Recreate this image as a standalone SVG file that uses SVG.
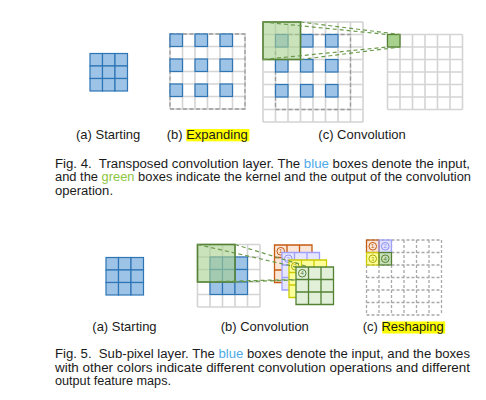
<svg xmlns="http://www.w3.org/2000/svg" xmlns:xlink="http://www.w3.org/1999/xlink" width="486" height="400" viewBox="0 0 486 400">
<style>
.bg{fill:#fff}
.grid{fill:none;stroke:#d4d4d4;stroke-width:1.6}
.dgrid{fill:none;stroke:#a8a8a8;stroke-width:1.3;stroke-dasharray:3 2}
.border{fill:none;stroke:#9a9a9a;stroke-width:1.3;stroke-dasharray:4 2.5}
.blue{fill:#9dc3e6;stroke:#2e75b6;stroke-width:1.2}
.kern{fill:#a9d18e;fill-opacity:0.6;stroke:#548235;stroke-width:1.6}
.gcell{fill:#a9d18e;stroke:#548235;stroke-width:1.3}
.conn{fill:none;stroke:#6b9a4c;stroke-width:1.2;stroke-dasharray:4 3}
.lbl{font-family:"Liberation Sans",Arial,sans-serif;font-size:13px;fill:#1a1a1a}
.cap{font-family:"Liberation Sans",Arial,sans-serif;font-size:12px;fill:#1a1a1a}
.hl{fill:#ffff00}
.num{font-family:"Liberation Sans",Arial,sans-serif;font-size:6px;text-anchor:middle}
.ring{fill:none;stroke-width:1}
</style>
<defs>
<path id="g3" d="M0 0H37.5V37.5H0Z M12.5 0V37.5 M25 0V37.5 M0 12.5H37.5 M0 25H37.5"/>
<g id="b3">
<rect class="blue" x="0" y="0" width="12.5" height="12.5"/><rect class="blue" x="12.5" y="0" width="12.5" height="12.5"/><rect class="blue" x="25" y="0" width="12.5" height="12.5"/>
<rect class="blue" x="0" y="12.5" width="12.5" height="12.5"/><rect class="blue" x="12.5" y="12.5" width="12.5" height="12.5"/><rect class="blue" x="25" y="12.5" width="12.5" height="12.5"/>
<rect class="blue" x="0" y="25" width="12.5" height="12.5"/><rect class="blue" x="12.5" y="25" width="12.5" height="12.5"/><rect class="blue" x="25" y="25" width="12.5" height="12.5"/>
</g>
</defs>
<rect class="bg" x="0" y="0" width="486" height="400"/>

<!-- Fig 4 (a) starting -->
<g id="fig4-a-input">
<use xlink:href="#b3" x="90" y="53.5"/>
</g>

<!-- Fig 4 (b) expanding -->
<g id="fig4-b-expanded">
<path class="grid" d="M170 34V109M182.5 34V109M195 34V109M207.5 34V109M220 34V109M232.5 34V109M245 34V109M170 34H245M170 46.5H245M170 59H245M170 71.5H245M170 84H245M170 96.5H245M170 109H245"/>
<rect class="border" x="170" y="34" width="75" height="75"/>
<rect class="blue" x="170" y="34" width="12.5" height="12.5"/><rect class="blue" x="195" y="34" width="12.5" height="12.5"/><rect class="blue" x="220" y="34" width="12.5" height="12.5"/>
<rect class="blue" x="170" y="59" width="12.5" height="12.5"/><rect class="blue" x="195" y="59" width="12.5" height="12.5"/><rect class="blue" x="220" y="59" width="12.5" height="12.5"/>
<rect class="blue" x="170" y="84" width="12.5" height="12.5"/><rect class="blue" x="195" y="84" width="12.5" height="12.5"/><rect class="blue" x="220" y="84" width="12.5" height="12.5"/>
</g>

<!-- Fig 4 (c) convolution input (padded) -->
<g id="fig4-c-padded">
<path class="grid" d="M263 22V122M275.5 22V122M288 22V122M300.5 22V122M313 22V122M325.5 22V122M338 22V122M350.5 22V122M363 22V122M263 22H363M263 34.5H363M263 47H363M263 59.5H363M263 72H363M263 84.5H363M263 97H363M263 109.5H363M263 122H363"/>
<rect class="border" x="275.5" y="34.5" width="75" height="75"/>
<rect class="blue" x="275.5" y="34.5" width="12.5" height="12.5"/><rect class="blue" x="300.5" y="34.5" width="12.5" height="12.5"/><rect class="blue" x="325.5" y="34.5" width="12.5" height="12.5"/>
<rect class="blue" x="275.5" y="59.5" width="12.5" height="12.5"/><rect class="blue" x="300.5" y="59.5" width="12.5" height="12.5"/><rect class="blue" x="325.5" y="59.5" width="12.5" height="12.5"/>
<rect class="blue" x="275.5" y="84.5" width="12.5" height="12.5"/><rect class="blue" x="300.5" y="84.5" width="12.5" height="12.5"/><rect class="blue" x="325.5" y="84.5" width="12.5" height="12.5"/>
</g>
<g id="fig4-c-kernel">
<rect class="kern" x="263" y="22" width="37.5" height="37.5"/>
</g>
<g id="fig4-c-output">
<path class="grid" d="M387.5 34.5V109.5M400 34.5V109.5M412.5 34.5V109.5M425 34.5V109.5M437.5 34.5V109.5M450 34.5V109.5M462.5 34.5V109.5M387.5 34.5H462.5M387.5 47H462.5M387.5 59.5H462.5M387.5 72H462.5M387.5 84.5H462.5M387.5 97H462.5M387.5 109.5H462.5"/>
<rect class="gcell" x="387.5" y="34.5" width="12.5" height="12.5"/>
</g>

<!-- Fig 5 (a) starting -->
<g id="fig5-a-input">
<use xlink:href="#b3" x="106" y="257.5"/>
</g>

<!-- Fig 5 (b) convolution -->
<g id="fig5-b-input">
<path class="grid" d="M197.5 244.5V307M210 244.5V307M222.5 244.5V307M235 244.5V307M247.5 244.5V307M260 244.5V307M197.5 244.5H260M197.5 257H260M197.5 269.5H260M197.5 282H260M197.5 294.5H260M197.5 307H260"/>
<use xlink:href="#b3" x="210" y="257"/>
</g>
<g id="fig5-b-kernel">
<rect class="kern" x="197.5" y="244.5" width="37.5" height="37.5"/>
</g>

<g id="map1">
<use xlink:href="#g3" x="274.5" y="245" fill="#fbe5d6" stroke="#c55a11" stroke-width="1.3"/>
<circle class="ring" cx="280.75" cy="251.25" r="3.8" stroke="#c55a11"/>
<text class="num" x="280.75" y="253.4" fill="#c55a11">1</text>
</g>
<g id="map2">
<use xlink:href="#g3" x="282" y="252.5" fill="#e6e6ff" stroke="#a0a0ff" stroke-width="1.3"/>
<circle class="ring" cx="288.25" cy="258.75" r="3.8" stroke="#8f8fef"/>
<text class="num" x="288.25" y="260.9" fill="#8f8fef">2</text>
</g>
<g id="map3">
<use xlink:href="#g3" x="289" y="260" fill="#ffff99" stroke="#cccc00" stroke-width="1.3"/>
<circle class="ring" cx="295.25" cy="266.25" r="3.8" stroke="#a8a800"/>
<text class="num" x="295.25" y="268.4" fill="#a8a800">3</text>
</g>

<g id="connectors">
<path class="conn" d="M263 22L387.5 34.5M300.5 22L400 34.5M263 59.5L387.5 47M300.5 59.5L400 47"/>
<path class="conn" d="M197.5 244.5L296 267M235 244.5L308.5 267M197.5 282L296 279.5M235 282L308.5 279.5"/>
</g>

<g id="map4">
<use xlink:href="#g3" x="296" y="267" fill="#e2efd9" stroke="#548235" stroke-width="1.3"/>
<circle class="ring" cx="302.25" cy="273.25" r="3.8" stroke="#548235"/>
<text class="num" x="302.25" y="275.4" fill="#548235">4</text>
</g>

<!-- Fig 5 (c) reshaping -->
<g id="fig5-c-output">
<rect x="366.5" y="240" width="12.5" height="12.5" fill="#fbe5d6"/>
<rect x="379" y="240" width="12.5" height="12.5" fill="#e0e0ff"/>
<rect x="366.5" y="252.5" width="12.5" height="12.5" fill="#ffff99"/>
<rect x="379" y="252.5" width="12.5" height="12.5" fill="#c9e0b8"/>
<path class="dgrid" d="M366.5 240V315M379 240V315M391.5 240V315M404 240V315M416.5 240V315M429 240V315M441.5 240V315M366.5 240H441.5M366.5 252.5H441.5M366.5 265H441.5M366.5 277.5H441.5M366.5 290H441.5M366.5 302.5H441.5M366.5 315H441.5"/>
<rect x="366.5" y="240" width="12.5" height="12.5" fill="none" stroke="#c55a11" stroke-width="1.2"/>
<rect x="379" y="240" width="12.5" height="12.5" fill="none" stroke="#a0a0ff" stroke-width="1.2"/>
<rect x="366.5" y="252.5" width="12.5" height="12.5" fill="none" stroke="#cccc00" stroke-width="1.2"/>
<rect x="379" y="252.5" width="12.5" height="12.5" fill="none" stroke="#548235" stroke-width="1.2"/>
<circle class="ring" cx="372.75" cy="246.25" r="3.8" stroke="#c55a11"/><text class="num" x="372.75" y="248.4" fill="#c55a11">1</text>
<circle class="ring" cx="385.25" cy="246.25" r="3.8" stroke="#8f8fef"/><text class="num" x="385.25" y="248.4" fill="#8f8fef">2</text>
<circle class="ring" cx="372.75" cy="258.75" r="3.8" stroke="#a8a800"/><text class="num" x="372.75" y="260.9" fill="#a8a800">3</text>
<circle class="ring" cx="385.25" cy="258.75" r="3.8" stroke="#548235"/><text class="num" x="385.25" y="260.9" fill="#548235">4</text>
</g>

<!-- Labels -->
<g id="labels">
<rect class="hl" x="186.2" y="129" width="63.2" height="12.3"/>
<text class="lbl" x="76" y="138.5">(a) Starting</text>
<text class="lbl" x="166.7" y="138.5">(b) Expanding</text>
<text class="lbl" x="318.3" y="138.5">(c) Convolution</text>
<rect class="hl" x="382.2" y="321.5" width="63" height="12"/>
<text class="lbl" x="92.3" y="331">(a) Starting</text>
<text class="lbl" x="220.7" y="331">(b) Convolution</text>
<text class="lbl" x="362.7" y="331">(c) Reshaping</text>
</g>

<!-- Captions -->
<g id="caption4">
<text class="cap" x="55" y="167.5" textLength="415" lengthAdjust="spacingAndGlyphs">Fig. 4.&#160; Transposed convolution layer. The <tspan fill="#4ea9e6">blue</tspan> boxes denote the input,</text>
<text class="cap" x="55" y="181" textLength="416" lengthAdjust="spacingAndGlyphs">and the <tspan fill="#8cc63f">green</tspan> boxes indicate the kernel and the output of the convolution</text>
<text class="cap" x="55" y="194.5" textLength="58" lengthAdjust="spacingAndGlyphs">operation.</text>
</g>
<g id="caption5">
<text class="cap" x="55" y="358" textLength="415" lengthAdjust="spacingAndGlyphs">Fig. 5.&#160; Sub-pixel layer. The <tspan fill="#4ea9e6">blue</tspan> boxes denote the input, and the boxes</text>
<text class="cap" x="55" y="371.5" textLength="415" lengthAdjust="spacingAndGlyphs">with other colors indicate different convolution operations and different</text>
<text class="cap" x="55" y="385" textLength="116" lengthAdjust="spacingAndGlyphs">output feature maps.</text>
</g>
</svg>
